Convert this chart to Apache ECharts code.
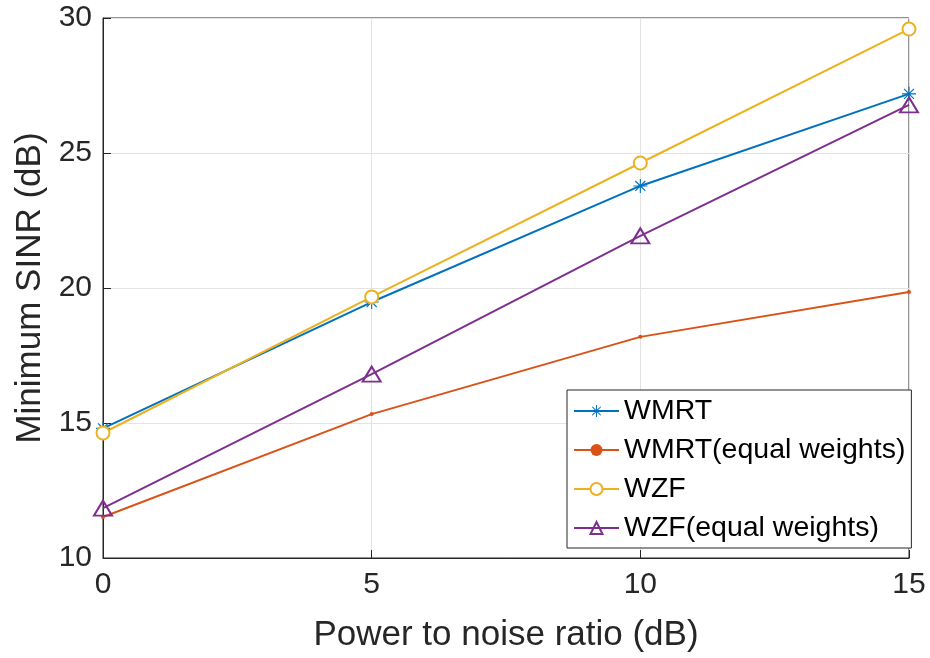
<!DOCTYPE html>
<html>
<head>
<meta charset="utf-8">
<script src="https://cdn.jsdelivr.net/npm/echarts@6/dist/echarts.min.js"></script>
<style>html,body{margin:0;padding:0;background:#fff;}#c{width:930px;height:658px;}</style>
</head>
<body>
<div id="c"></div>
<script>
const xValues = [0, 5, 10, 15];
const seriesNames = ['WMRT', 'WMRT(equal weights)', 'WZF', 'WZF(equal weights)'];
const wmrt = [14.8, 19.48, 23.78, 27.19];
const wmrtEqual = [11.52, 15.33, 18.19, 19.85];
const wzf = [14.63, 19.67, 24.63, 29.59];
const wzfEqual = [11.85, 16.81, 21.93, 26.78];
const xTicks = [0, 5, 10, 15];
const yTicks = [10, 15, 20, 25, 30];

const colors = ['#0072BD', '#D95319', '#EDB120', '#7E2F8E'];
const asterisk = 'path://M9.2,0H10.8V8.1L16.5,2.3L17.7,3.5L11.9,9.2H20V10.8H11.9L17.7,16.5L16.5,17.7L10.8,11.9V20H9.2V11.9L3.5,17.7L2.3,16.5L8.1,10.8H0V9.2H8.1L2.3,3.5L3.5,2.3L9.2,8.1Z';

function pts(arr){ return xValues.map((x,i)=>[x, arr[i]]); }

const FONT = 'Liberation Sans, Arial, sans-serif';
const chart = echarts.init(document.getElementById('c'), null, {renderer:'canvas'});
const axisText = {fontFamily:FONT, fontSize:30, color:'#262626'};
chart.setOption({
  animation:false,
  backgroundColor:'#fff',
  grid:{left:103, right:21, top:18, bottom:100, show:true, borderColor:'#262626', borderWidth:1, backgroundColor:'transparent'},
  xAxis:{
    type:'value', min:0, max:15, interval:5,
    name:'Power to noise ratio (dB)', nameLocation:'middle', nameGap:60,
    nameTextStyle:{fontFamily:FONT, fontSize:35, color:'#262626'},
    axisLine:{show:true, lineStyle:{color:'#262626', width:1}},
    axisTick:{show:true, inside:true, length:8, lineStyle:{color:'#262626'}},
    axisLabel:Object.assign({margin:12, formatter:v=>xTicks.includes(v)?String(v):''}, axisText),
    splitLine:{show:true, lineStyle:{color:'#e3e3e3', width:1}}
  },
  yAxis:{
    type:'value', min:10, max:30, interval:5,
    name:'Minimum SINR (dB)', nameLocation:'middle', nameGap:53,
    nameTextStyle:{fontFamily:FONT, fontSize:35, color:'#262626'},
    axisLine:{show:true, lineStyle:{color:'#262626', width:1}},
    axisTick:{show:true, inside:true, length:8, lineStyle:{color:'#262626'}},
    axisLabel:Object.assign({margin:11, formatter:v=>yTicks.includes(v)?String(v):''}, axisText),
    splitLine:{show:true, lineStyle:{color:'#e3e3e3', width:1}}
  },
  legend:{
    left:567, top:390, orient:'vertical',
    itemWidth:45, itemHeight:15, itemGap:9,
    padding:[6,6,5,6],
    backgroundColor:'#fff', borderColor:'#262626', borderWidth:1, borderRadius:0,
    textStyle:{fontFamily:FONT, fontSize:28.5, color:'#000', lineHeight:30},
    data:seriesNames
  },
  series:[
    {name:seriesNames[0], type:'line', data:pts(wmrt), symbol:asterisk, symbolSize:14,
     itemStyle:{color:colors[0]}, lineStyle:{color:colors[0], width:2}},
    {name:seriesNames[1], type:'line', data:pts(wmrtEqual), symbol:'circle', symbolSize:4,
     itemStyle:{color:colors[1]}, lineStyle:{color:colors[1], width:2}},
    {name:seriesNames[2], type:'line', data:pts(wzf), symbol:'emptyCircle', symbolSize:13,
     itemStyle:{color:colors[2], borderColor:colors[2], borderWidth:2}, lineStyle:{color:colors[2], width:2}},
    {name:seriesNames[3], type:'line', data:pts(wzfEqual), symbol:'triangle', symbolSize:[18,15],
     itemStyle:{color:'rgba(255,255,255,0)', borderColor:colors[3], borderWidth:2}, lineStyle:{color:colors[3], width:2}}
  ]
});
</script>
</body>
</html>
